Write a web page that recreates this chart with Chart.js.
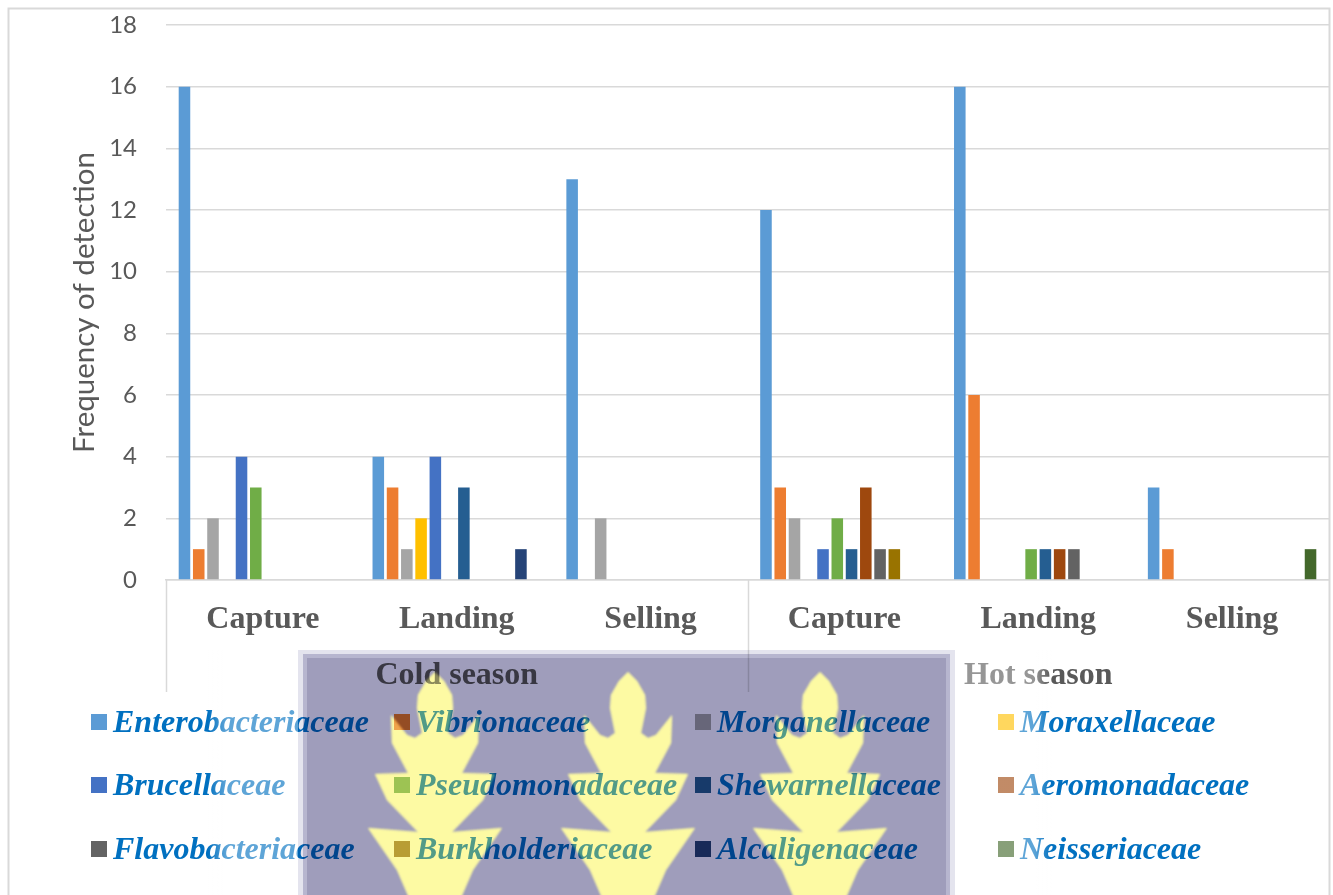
<!DOCTYPE html>
<html>
<head>
<meta charset="utf-8">
<title>Frequency of detection</title>
<script src="https://cdn.jsdelivr.net/npm/chart.js@4/dist/chart.umd.min.js"></script>
<style>
    html, body { margin: 0; padding: 0; background: #fff; overflow: hidden; }
    canvas { display: block; }
</style>
</head>
<body>
<canvas id="myBarChart" width="1333" height="895"></canvas>
<script>
const stages = ['Capture', 'Landing', 'Selling', 'Capture', 'Landing', 'Selling'];
const seasons = ['Cold season', 'Hot season'];
const yTicks = [0, 2, 4, 6, 8, 10, 12, 14, 16, 18];

// one value per stage, same order as stages
const enterobacteriaceae = [16, 4, 13, 12, 16, 3];
const vibrionaceae = [1, 3, 0, 3, 6, 1];
const morganellaceae = [2, 1, 2, 2, 0, 0];
const moraxellaceae = [0, 2, 0, 0, 0, 0];
const brucellaceae = [4, 4, 0, 1, 0, 0];
const pseudomonadaceae = [3, 0, 0, 2, 1, 0];
const shewarnellaceae = [0, 3, 0, 1, 1, 0];
const aeromonadaceae = [0, 0, 0, 3, 1, 0];
const flavobacteriaceae = [0, 0, 0, 1, 1, 0];
const burkholderiaceae = [0, 0, 0, 1, 0, 0];
const alcaligenaceae = [0, 1, 0, 0, 0, 0];
const neisseriaceae = [0, 0, 0, 0, 0, 1];

const families = ['Enterobacteriaceae', 'Vibrionaceae', 'Morganellaceae', 'Moraxellaceae',
    'Brucellaceae', 'Pseudomonadaceae', 'Shewarnellaceae', 'Aeromonadaceae',
    'Flavobacteriaceae', 'Burkholderiaceae', 'Alcaligenaceae', 'Neisseriaceae'];
const familyValues = [enterobacteriaceae, vibrionaceae, morganellaceae, moraxellaceae,
    brucellaceae, pseudomonadaceae, shewarnellaceae, aeromonadaceae,
    flavobacteriaceae, burkholderiaceae, alcaligenaceae, neisseriaceae];
const familyColors = ['#5B9BD5', '#ED7D31', '#A5A5A5', '#FFC000',
    '#4472C4', '#70AD47', '#255E91', '#9E480E',
    '#636363', '#997300', '#264478', '#43682B'];

const LINE = '#D9D9D9';
const TEXT = '#595959';
const SERIF = '"Liberation Serif", serif';

// outer frame and the dividers of the two level axis
const framePlugin = {
    id: 'frame',
    beforeDraw(chart) {
        const ctx = chart.ctx;
        ctx.save();
        ctx.strokeStyle = LINE;
        ctx.lineWidth = 2;
        ctx.beginPath();
        ctx.moveTo(8.5, 895);
        ctx.lineTo(8.5, 8.5);
        ctx.lineTo(1329.5, 8.5);
        ctx.lineTo(1329.5, 895);
        ctx.stroke();
        ctx.restore();
    },
    afterDatasetsDraw(chart) {
        const ctx = chart.ctx;
        const x2 = chart.scales.x2;
        const middle = (x2.getPixelForValue(0) + x2.getPixelForValue(1)) / 2;
        ctx.save();
        ctx.strokeStyle = LINE;
        ctx.lineWidth = 1.5;
        ctx.beginPath();
        [x2.left, middle].forEach(x => {
            ctx.moveTo(Math.round(x) + 0.5, chart.chartArea.bottom);
            ctx.lineTo(Math.round(x) + 0.5, x2.bottom);
        });
        ctx.stroke();
        ctx.restore();
    }
};

// legend is three rows of four columns, the built in one can't line up columns
const legendPlugin = {
    id: 'gridLegend',
    afterDraw(chart) {
        const ctx = chart.ctx;
        const columns = [91, 394, 695, 998];
        const rows = [722, 785, 849];
        ctx.save();
        ctx.font = 'italic bold 32px ' + SERIF;
        ctx.textBaseline = 'alphabetic';
        chart.data.datasets.forEach((dataset, i) => {
            const x = columns[i % 4];
            const y = rows[Math.floor(i / 4)];
            ctx.fillStyle = dataset.backgroundColor;
            ctx.fillRect(x, y - 8, 16, 16);
            ctx.fillStyle = '#0070C0';
            ctx.fillText(dataset.label, x + 22, y + 10);
        });
        ctx.restore();
    }
};

// page stamp laid over the lower part of the figure
const leafOutline = [[0, 672], [-9, 681], [-17, 695], [-18, 708], [-13, 733], [-20, 738], [-28, 735], [-44, 715],
    [-43, 743], [-27, 773], [-60, 774], [-48, 800], [-17, 832], [-67, 828], [-38, 870], [-25, 900]];

function drawLeaves(g, color) {
    g.filter = 'blur(1px)';
    g.fillStyle = color;
    [435, 628, 820].forEach(cx => {
        g.beginPath();
        leafOutline.forEach(([dx, y], i) => {
            if (i === 0) g.moveTo(cx + dx, y);
            else g.lineTo(cx + dx, y);
        });
        for (let i = leafOutline.length - 1; i > 0; i--) {
            g.lineTo(cx - leafOutline[i][0], leafOutline[i][1]);
        }
        g.closePath();
        g.fill();
    });
}

const stampPlugin = {
    id: 'stamp',
    afterDraw(chart) {
        const ctx = chart.ctx;

        // washed out strips either side of the stamp
        ctx.save();
        const left = ctx.createLinearGradient(208, 0, 226, 0);
        left.addColorStop(0, 'rgba(255,255,255,0)');
        left.addColorStop(1, 'rgba(255,255,255,0.37)');
        ctx.fillStyle = left;
        ctx.fillRect(208, 650, 90, 245);
        const right = ctx.createLinearGradient(1034, 0, 1052, 0);
        right.addColorStop(0, 'rgba(255,255,255,0.37)');
        right.addColorStop(1, 'rgba(255,255,255,0)');
        ctx.fillStyle = right;
        ctx.fillRect(955, 650, 97, 245);
        ctx.restore();

        const layer = document.createElement('canvas');
        layer.width = chart.width;
        layer.height = chart.height;
        const g = layer.getContext('2d');
        g.filter = 'blur(0.6px)';
        g.fillStyle = '#E4E4EE';
        g.fillRect(298, 650, 657, 260);
        g.fillStyle = '#B7B6CF';
        g.fillRect(303, 654, 647, 256);
        g.fillStyle = '#9F9DBB';
        g.fillRect(307, 658, 639, 252);
        drawLeaves(g, '#FDFAA3');

        const leaves = document.createElement('canvas');
        leaves.width = chart.width;
        leaves.height = chart.height;
        drawLeaves(leaves.getContext('2d'), '#FDFAA3');

        ctx.save();
        ctx.globalCompositeOperation = 'multiply';
        ctx.drawImage(layer, 0, 0);
        ctx.globalCompositeOperation = 'source-over';
        // leaves sit partly over the text, so they lift what lies under them
        ctx.globalAlpha = 0.32;
        ctx.drawImage(leaves, 0, 0);
        ctx.restore();
    }
};

const config = {
    type: 'bar',
    data: {
        labels: stages,
        datasets: families.map((name, i) => ({
            label: name,
            data: familyValues[i],
            backgroundColor: familyColors[i],
            borderWidth: 0,
            barPercentage: 0.81,
            categoryPercentage: 0.883
        }))
    },
    options: {
        responsive: false,
        animation: false,
        layout: { padding: { top: 25, bottom: 203, right: 4, left: 0 } },
        plugins: {
            legend: { display: false },
            tooltip: { enabled: false }
        },
        scales: {
            y: {
                min: 0,
                max: 18,
                afterFit(scale) { scale.width = 166; },
                afterBuildTicks(scale) { scale.ticks = yTicks.map(value => ({ value })); },
                // tick padding would push the plot top down, so the gap comes from a hidden tick
                grid: { color: LINE, lineWidth: 1.5, tickLength: 29, tickColor: 'rgba(0,0,0,0)' },
                border: { display: false },
                ticks: {
                    color: TEXT,
                    padding: 0,
                    font: { family: 'Lato', size: 24 }
                },
                title: {
                    display: true,
                    text: 'Frequency of detection',
                    color: TEXT,
                    padding: { top: 67, bottom: 0 },
                    font: { family: 'Lato', size: 29.5 }
                }
            },
            x: {
                afterFit(scale) { scale.height = 60; },
                grid: { display: false },
                border: { color: LINE, width: 1.5 },
                ticks: {
                    color: TEXT,
                    padding: 13,
                    autoSkip: false,
                    maxRotation: 0,
                    font: { family: SERIF, size: 32, weight: 'bold' }
                }
            },
            x2: {
                type: 'category',
                axis: 'x',
                position: 'bottom',
                weight: 1,
                labels: seasons,
                offset: true,
                afterFit(scale) { scale.height = 52; },
                grid: { display: false },
                border: { display: false },
                ticks: {
                    color: TEXT,
                    padding: 9,
                    autoSkip: false,
                    maxRotation: 0,
                    font: { family: SERIF, size: 32, weight: 'bold' }
                }
            }
        }
    },
    plugins: [framePlugin, legendPlugin, stampPlugin]
};

new Chart(document.querySelector('#myBarChart'), config);
</script>
</body>
</html>
